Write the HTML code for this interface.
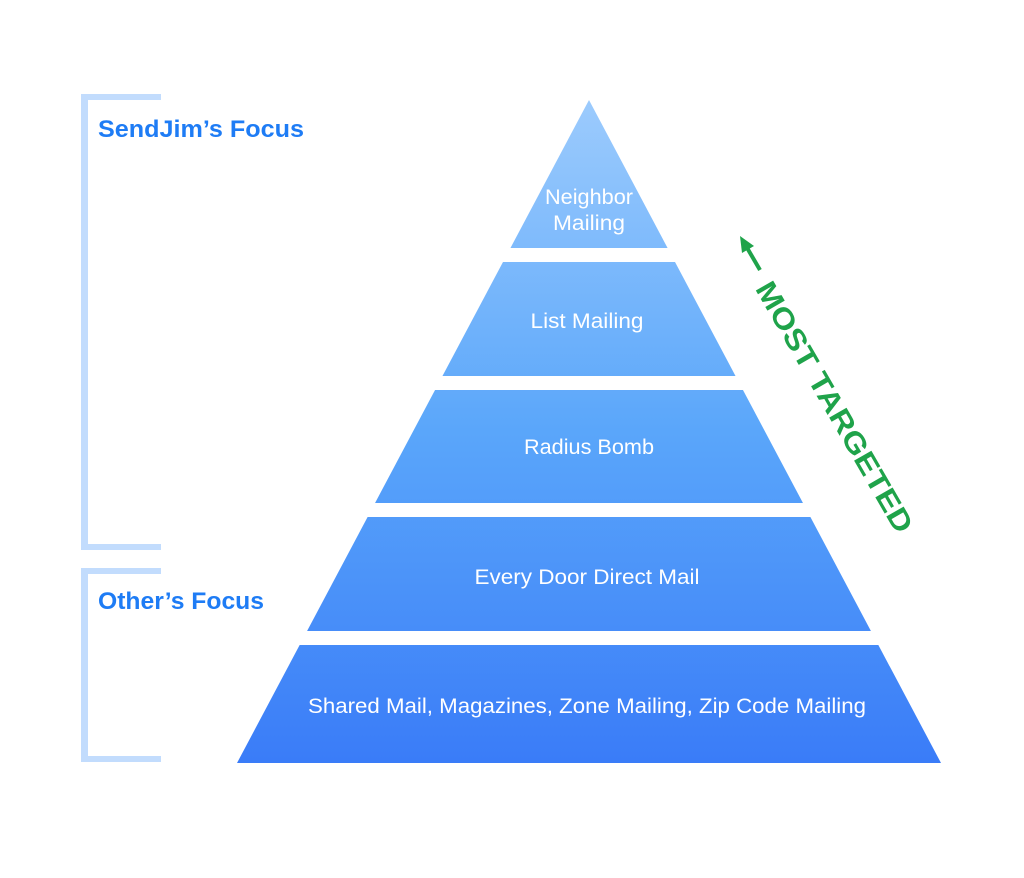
<!DOCTYPE html>
<html><head><meta charset="utf-8">
<style>html,body{margin:0;padding:0;background:#fff;}svg{display:block}</style>
</head><body>
<svg width="1024" height="878" viewBox="0 0 1024 878" xmlns="http://www.w3.org/2000/svg">
<defs>
<linearGradient id="g" x1="0" y1="100" x2="0" y2="763" gradientUnits="userSpaceOnUse">
<stop offset="0" stop-color="#9ccbfd"/>
<stop offset="0.5" stop-color="#5aa6fa"/>
<stop offset="1" stop-color="#3a7cf8"/>
</linearGradient>
<clipPath id="tri"><polygon points="589,100 941,763 237,763"/></clipPath>
</defs>
<g clip-path="url(#tri)" fill="url(#g)">
<rect x="200" y="95" width="780" height="153"/>
<rect x="200" y="262" width="780" height="114"/>
<rect x="200" y="390" width="780" height="113"/>
<rect x="200" y="517" width="780" height="114"/>
<rect x="200" y="645" width="780" height="118"/>
</g>
<g font-family="Liberation Sans, sans-serif" fill="#fff" font-size="21" text-anchor="middle">
<text x="589" y="204" textLength="88" lengthAdjust="spacingAndGlyphs">Neighbor</text>
<text x="589" y="230" textLength="72" lengthAdjust="spacingAndGlyphs">Mailing</text>
<text x="587" y="328" textLength="113" lengthAdjust="spacingAndGlyphs">List Mailing</text>
<text x="589" y="454" textLength="130" lengthAdjust="spacingAndGlyphs">Radius Bomb</text>
<text x="587" y="584" textLength="225" lengthAdjust="spacingAndGlyphs">Every Door Direct Mail</text>
<text x="587" y="713" textLength="558" lengthAdjust="spacingAndGlyphs">Shared Mail, Magazines, Zone Mailing, Zip Code Mailing</text>
</g>
<g fill="#c2dcfd">
<rect x="81" y="94" width="7" height="456"/>
<rect x="81" y="94" width="80" height="6"/>
<rect x="81" y="544" width="80" height="6"/>
<rect x="81" y="568" width="7" height="194"/>
<rect x="81" y="568" width="80" height="6"/>
<rect x="81" y="756" width="80" height="6"/>
</g>
<g font-family="Liberation Sans, sans-serif" font-weight="bold" fill="#1e7cf5" font-size="24">
<text x="98" y="137" textLength="206" lengthAdjust="spacingAndGlyphs">SendJim’s Focus</text>
<text x="98" y="609" textLength="166" lengthAdjust="spacingAndGlyphs">Other’s Focus</text>
</g>
<g fill="#1fa34a" stroke="none">
<line x1="760" y1="270" x2="746" y2="246" stroke="#1fa34a" stroke-width="4"/>
<polygon points="740,236 754,246 742,253"/>
<text x="0" y="0" font-family="Liberation Sans, sans-serif" font-weight="bold" font-size="29" text-anchor="middle" transform="translate(826,412) rotate(60)" textLength="285" lengthAdjust="spacingAndGlyphs">MOST TARGETED</text>
</g>
</svg>
</body></html>
